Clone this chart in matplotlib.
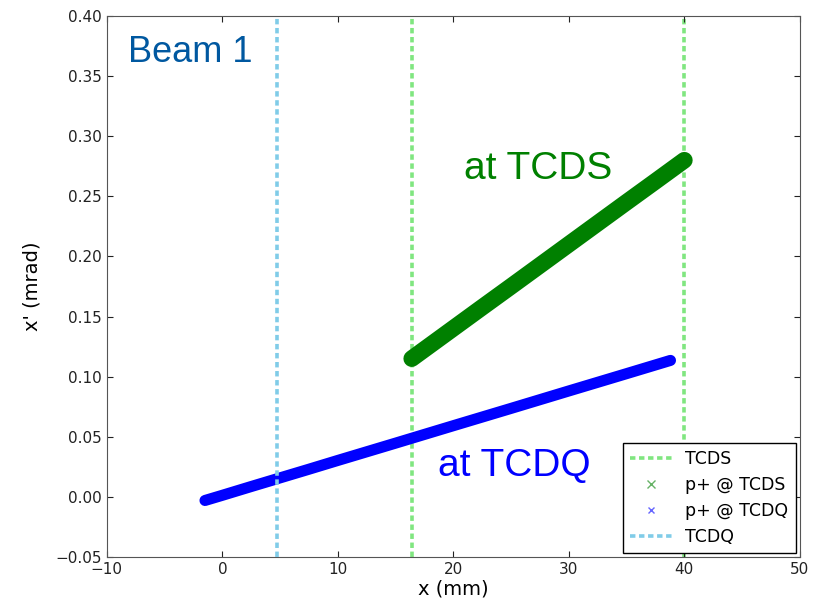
import matplotlib
matplotlib.use('Agg')
import matplotlib.pyplot as plt

# positions of the collimators (mm)
tcds_x = [16.4, 40.0]
tcdq_x = 4.7

# beam core at TCDS, read along the band
tcds_px = [16.4, 18.0, 20.0, 22.5, 25.0, 27.5, 30.0, 32.5, 35.0, 37.5, 40.0]
tcds_py = [0.1150, 0.1262, 0.1402, 0.1577, 0.1751, 0.1926, 0.2101, 0.2276, 0.2451, 0.2625, 0.2800]

# beam core at TCDQ
tcdq_px = [-1.5, 0.0, 2.5, 5.0, 7.5, 10.0, 15.0, 20.0, 25.0, 30.0, 35.0, 38.8]
tcdq_py = [-0.0030, 0.0013, 0.0086, 0.0158, 0.0230, 0.0303, 0.0447, 0.0592, 0.0736, 0.0881, 0.1025, 0.1135]

x_ticks = [-10, 0, 10, 20, 30, 40, 50]
y_ticks = [-0.05, 0.00, 0.05, 0.10, 0.15, 0.20, 0.25, 0.30, 0.35, 0.40]

fig = plt.figure(figsize=(8.28, 6.07), dpi=100)
ax = fig.add_axes([0.129, 0.0824, 0.837, 0.8913])

dash = (1.5, 1.0)
ax.axvline(tcds_x[0], color='#80e680', lw=2.6, ls='--', dashes=dash, label='TCDS', zorder=1)
ax.axvline(tcds_x[1], color='#80e680', lw=2.6, ls='--', dashes=dash, zorder=1)

# thick core of the scatter band
ax.plot(tcds_px, tcds_py, '-', color='green', lw=12, solid_capstyle='round', zorder=2)
ax.plot(tcds_px, tcds_py, 'x', color='green', ms=6, mew=1, alpha=0.6, label='p+ @ TCDS', zorder=2)
ax.plot(tcdq_px, tcdq_py, '-', color='blue', lw=8, solid_capstyle='round', zorder=2)
ax.plot(tcdq_px, tcdq_py, 'x', color='blue', ms=5, mew=1, alpha=0.6, label='p+ @ TCDQ', zorder=2)

ax.axvline(tcdq_x, color='#80cce8', lw=2.6, ls='--', dashes=dash, label='TCDQ', zorder=3)

ax.set_xlim(-10, 50)
ax.set_ylim(-0.05, 0.40)
ax.set_xticks(x_ticks)
ax.set_yticks(y_ticks)
ax.set_xticklabels([str(t).replace('-', '\u2212') for t in x_ticks])
ax.set_yticklabels([f'{t:.2f}'.replace('-', '\u2212') for t in y_ticks])
ax.tick_params(direction='in', labelsize=11, length=4, top=True, right=True, colors='#222222')
for s in ax.spines.values():
    s.set_color('#555555')

ax.set_xlabel('x (mm)', fontsize=14, labelpad=2)
ax.set_ylabel("x' (mrad)", fontsize=14, labelpad=10)

ax.text(-8.2, 0.362, 'Beam 1', fontsize=26, family='Liberation Sans', color='#0058a0')
ax.text(20.9, 0.264, 'at TCDS', fontsize=28, family='Liberation Sans', color='green')
ax.text(18.7, 0.0175, 'at TCDQ', fontsize=28, family='Liberation Sans', color='blue')

leg = ax.legend(loc='lower right', fontsize=12.5, fancybox=False, framealpha=1,
                handlelength=2.4, labelspacing=0.45, borderaxespad=0.25)
leg.get_frame().set_edgecolor('black')

fig.savefig('out.png', dpi=100)
